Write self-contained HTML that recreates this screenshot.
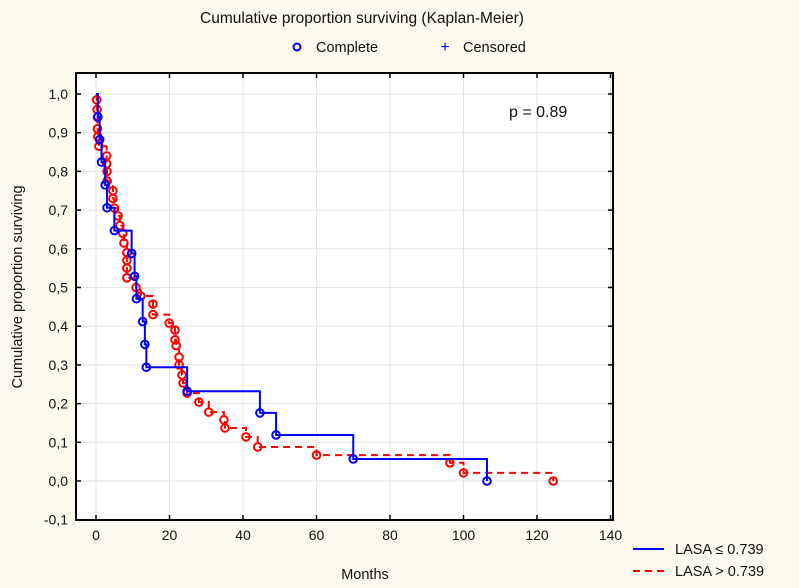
<!DOCTYPE html>
<html><head><meta charset="utf-8"><style>
body{margin:0;background:#fdf9ef;}
svg{display:block;font-family:"Liberation Sans",sans-serif;}
</style></head><body>
<svg id="chart" width="799" height="588">
<rect x="0" y="0" width="799" height="588" fill="#fdf9ef"/>
<text x="362" y="23" font-size="15.5" text-anchor="middle" fill="#111">Cumulative proportion surviving (Kaplan-Meier)</text>
<g>
<circle cx="297" cy="47" r="3.5" fill="none" stroke="#0000ff" stroke-width="2"/>
<text x="316" y="52" font-size="14.5" fill="#111">Complete</text>
<text x="445" y="52" font-size="16" fill="#0000ff" text-anchor="middle">+</text>
<text x="463" y="52" font-size="14.5" fill="#111">Censored</text>
</g>
<rect x="76" y="73" width="537" height="447" fill="#fff"/>
<g id="grid"></g>
<g id="axes"></g>
<g id="series"></g>
<rect x="76" y="73" width="537" height="447" fill="none" stroke="#000" stroke-width="2"/>
<text x="509" y="117" font-size="16" fill="#111">p = 0.89</text>
<text transform="translate(22,287) rotate(-90)" font-size="14.5" text-anchor="middle" fill="#111">Cumulative proportion surviving</text>
<text x="365" y="579" font-size="14.5" text-anchor="middle" fill="#111">Months</text>
<g>
<line x1="633" y1="549" x2="664" y2="549" stroke="#0000ff" stroke-width="2"/>
<text x="675" y="554" font-size="14.5" fill="#111">LASA ≤ 0.739</text>
<line x1="633" y1="571" x2="664" y2="571" stroke="#ff0000" stroke-width="2" stroke-dasharray="7,5"/>
<text x="675" y="576" font-size="14.5" fill="#111">LASA &gt; 0.739</text>
</g>
</svg>
<script>
const xTicks=[0,20,40,60,80,100,120,140];
const yTicks=[1.0,0.9,0.8,0.7,0.6,0.5,0.4,0.3,0.2,0.1,0.0,-0.1];
const blueTimes=[0.5,1,1.5,2.5,3,5,9.7,10.5,11,12.7,13.3,13.7,24.8,44.6,49,70,106.4];
const blueSurv=[0.941,0.882,0.824,0.765,0.706,0.647,0.588,0.529,0.471,0.412,0.353,0.294,0.232,0.176,0.119,0.057,0.0];
const redTimes=[0.2,0.3,0.4,0.4,0.5,0.8,2.9,2.9,3,3,4.6,4.6,5,6,6.5,7.3,7.6,8.4,8.4,8.4,8.4,10.9,12.2,15.5,15.5,19.9,21.5,21.5,21.8,22.6,22.6,23.4,23.7,24.8,28,30.7,34.8,35.1,40.8,44,60,96.3,100,124.4];
const redSurv=[0.985,0.96,0.94,0.91,0.89,0.865,0.84,0.82,0.80,0.775,0.75,0.73,0.705,0.685,0.66,0.64,0.615,0.59,0.57,0.55,0.525,0.50,0.478,0.457,0.43,0.408,0.39,0.365,0.35,0.32,0.30,0.274,0.253,0.227,0.204,0.178,0.158,0.137,0.114,0.088,0.067,0.047,0.021,0.0];
const NS='http://www.w3.org/2000/svg';
function X(t){return 96+t*3.675;}
function Y(v){return 481-v*387;}
function mk(tag,attrs,parent){const e=document.createElementNS(NS,tag);for(const k in attrs)e.setAttribute(k,attrs[k]);parent.appendChild(e);return e;}
const grid=document.getElementById('grid'),axes=document.getElementById('axes'),series=document.getElementById('series');
xTicks.forEach(t=>{
  const x=X(t);
  const g=mk('line',{x1:x,y1:73,x2:x,y2:520,stroke:'#e3e3e3','stroke-width':1},grid);
  
  
  const a=mk('line',{x1:x,y1:520,x2:x,y2:515,stroke:'#000','stroke-width':1.5},axes);
  
  
  const b=mk('line',{x1:x,y1:73,x2:x,y2:78,stroke:'#000','stroke-width':1.5},axes);
  
  
  const l=mk('text',{x:x,y:540,'font-size':14,'text-anchor':'middle',fill:'#111'},axes);
  l.textContent=String(t);
  
  
});
yTicks.forEach(v=>{
  const y=Y(v);
  const g=mk('line',{x1:76,y1:y,x2:613,y2:y,stroke:'#e3e3e3','stroke-width':1},grid);
  
  
  const a=mk('line',{x1:76,y1:y,x2:81,y2:y,stroke:'#000','stroke-width':1.5},axes);
  
  
  const b=mk('line',{x1:613,y1:y,x2:608,y2:y,stroke:'#000','stroke-width':1.5},axes);
  
  
  const l=mk('text',{x:68,y:y+5,'font-size':14,'text-anchor':'end',fill:'#111'},axes);
  l.textContent=v.toFixed(1).replace('.',',');
  
  
});
function drawSeries(times,surv,color,dash,name){
  let d='M'+X(0)+','+Y(1);
  let prev=1;
  for(let i=0;i<times.length;i++){
    d+=' H'+X(times[i])+' V'+Y(surv[i]);
  }
  const p=mk('path',{d:d,fill:'none',stroke:color,'stroke-width':2,'stroke-dasharray':dash},series);
  
  
  for(let i=0;i<times.length;i++){
    const c=mk('circle',{cx:X(times[i]),cy:Y(surv[i]),r:3.8,fill:'none',stroke:color,'stroke-width':2},series);
    
    
  }
}
drawSeries(redTimes,redSurv,'#ff0000','7,5','red-series');
drawSeries(blueTimes,blueSurv,'#0000ff','none','blue-series');
</script>
</body></html>
